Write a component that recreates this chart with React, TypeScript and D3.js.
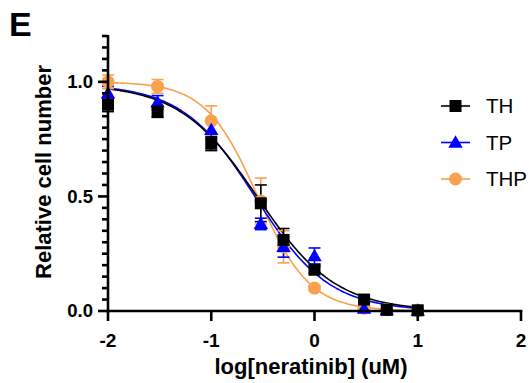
import React from "react";
import * as d3 from "d3";

const logDose = [-2, -1.52, -1, -0.52, -0.3, 0, 0.48, 0.7, 1];
const seriesNames = ["THP", "TP", "TH"];
const colors = ["#F8A14E", "#0000FF", "#000000"];
const thMean = [0.9, 0.87, 0.73, 0.47, 0.31, 0.18, 0.05, 0.005, 0.003];
const thErr = [0.03, 0.025, 0.03, 0.08, 0.05, 0.015, 0.01, 0.005, 0.005];
const tpMean = [0.95, 0.91, 0.79, 0.38, 0.28, 0.24, 0.01, 0.004, 0.002];
const tpErr = [0.03, 0.03, 0.035, 0.025, 0.045, 0.035, 0.008, 0.004, 0.003];
const thpMean = [1.0, 0.98, 0.83, 0.48, 0.28, 0.1, 0.012, 0.005, 0.002];
const thpErr = [0.03, 0.03, 0.065, 0.1, 0.07, 0.01, 0.008, 0.004, 0.003];
// fitted 4PL parameters: [top, bottom, logIC50, hill]
const fitTH = [0.99, 0.0, -0.55, 1.15];
const fitTP = [0.99, 0.0, -0.57, 1.22];
const fitTHP = [1.0, 0.0, -0.55, 1.72];
const xTicks = [-2, -1, 0, 1, 2];
const yTicks = [0, 0.5, 1.0];

const means = [thpMean, tpMean, thMean];
const errs = [thpErr, tpErr, thErr];
const fits = [fitTHP, fitTP, fitTH];
const legendOrder = ["TH", "TP", "THP"];

const FONT = "'Liberation Sans', Arial, Helvetica, sans-serif";

export default function App() {
  const W = 531, H = 383;
  const x = d3.scaleLinear().domain([-2, 2]).range([108, 521]);
  const y = d3.scaleLinear().domain([0, 1.2]).range([311, 36]);
  const minor = d3.range(0, 1.2001, 0.05);
  const curveX = d3.range(-2, 1.0001, 0.02);
  const line = d3.line<number[]>().x(d => x(d[0])).y(d => y(d[1])).curve(d3.curveMonotoneX);

  const marker = (name: string, cx: number, cy: number, key: string) => {
    const c = colors[seriesNames.indexOf(name)];
    if (name === "TH") return <rect key={key} x={cx - 6} y={cy - 6} width={12} height={12} fill={c} />;
    if (name === "TP") {
      const p = d3.symbol(d3.symbolTriangle, 90)();
      return <path key={key} d={p || ""} transform={`translate(${cx},${cy + 1})`} fill={c} />;
    }
    return <circle key={key} cx={cx} cy={cy} r={6.5} fill={c} />;
  };

  return (
    <svg width={W} height={H} style={{ position: "absolute", left: 0, top: 0 }} fontFamily={FONT}>
      <rect width={W} height={H} fill="#fff" />
      <text x={9} y={36} fontSize={34} fontWeight="bold">E</text>

      {/* curves */}
      {fits.map((f, i) => {
        const pts = curveX.map(v => [v, f[1] + (f[0] - f[1]) / (1 + Math.pow(10, (v - f[2]) * f[3]))]);
        return <path key={"c" + i} d={line(pts) || ""} fill="none" stroke={colors[i]} strokeWidth={1.6} />;
      })}

      {/* error bars */}
      {means.map((m, i) =>
        m.map((v, j) => {
          const cx = x(logDose[j]);
          const e = errs[i][j];
          return (
            <g key={`e${i}-${j}`} stroke={colors[i]} strokeWidth={1.6}>
              <line x1={cx} x2={cx} y1={y(v - e)} y2={y(v + e)} />
              <line x1={cx - 6} x2={cx + 6} y1={y(v + e)} y2={y(v + e)} />
              <line x1={cx - 6} x2={cx + 6} y1={y(v - e)} y2={y(v - e)} />
            </g>
          );
        })
      )}

      {/* markers */}
      {means.map((m, i) => m.map((v, j) => marker(seriesNames[i], x(logDose[j]), y(v), `m${i}-${j}`)))}

      {/* axes */}
      <g stroke="#000" strokeWidth={2.6}>
        <line x1={x(-2)} x2={x(-2)} y1={y(1.2) - 1} y2={y(0) + 1.3} />
        <line x1={x(-2) - 1.3} x2={x(2) + 1.3} y1={y(0)} y2={y(0)} />
        {minor.map((t, i) => (
          <line key={"mn" + i} x1={x(-2) - (i % 10 === 0 ? 10 : 6)} x2={x(-2)} y1={y(t)} y2={y(t)} />
        ))}
        {xTicks.map(t => (
          <line key={"xt" + t} x1={x(t)} x2={x(t)} y1={y(0)} y2={y(0) + 10} />
        ))}
      </g>
      {yTicks.map(t => (
        <text key={"yl" + t} x={93} y={y(t)} dy="0.35em" textAnchor="end" fontSize={18.5} fontWeight="bold">
          {d3.format(".1f")(t)}
        </text>
      ))}
      {xTicks.map(t => (
        <text key={"xl" + t} x={x(t)} y={347} textAnchor="middle" fontSize={19} fontWeight="bold">
          {t}
        </text>
      ))}
      <text x={311} y={374} textAnchor="middle" fontSize={22} fontWeight="bold">log[neratinib] (uM)</text>
      <text transform="translate(51,172) rotate(-90)" textAnchor="middle" fontSize={22} fontWeight="bold">
        Relative cell number
      </text>

      {/* legend */}
      {legendOrder.map((name, i) => {
        const ly = 106 + i * 36.5;
        const c = colors[seriesNames.indexOf(name)];
        return (
          <g key={"lg" + name}>
            <line x1={441} x2={470} y1={ly} y2={ly} stroke={c} strokeWidth={1.6} />
            {marker(name, 455.5, ly, "lm" + name)}
            <text x={486} y={ly} dy="0.36em" fontSize={20.5}>{name}</text>
          </g>
        );
      })}
    </svg>
  );
}
